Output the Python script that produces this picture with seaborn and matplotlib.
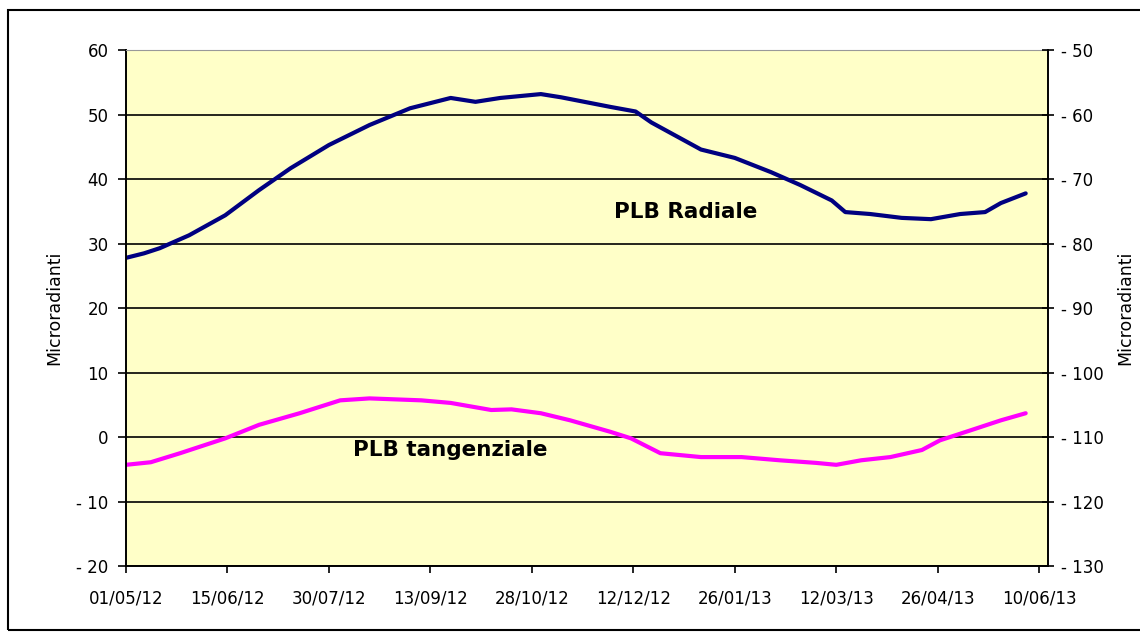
import pandas as pd
import seaborn as sns
import matplotlib.pyplot as plt
import matplotlib.dates as mdates
from matplotlib.patches import Rectangle

# Days since 01/05/12 and readings (microradians)
radiale_days = [0, 8, 15, 28, 44, 59, 73, 90, 108, 126, 144, 155, 166, 184, 193, 215, 226,
                233, 255, 270, 286, 299, 313, 319, 330, 344, 357, 370, 381, 388, 399]
radiale_vals = [27.8, 28.5, 29.3, 31.3, 34.4, 38.3, 41.7, 45.3, 48.4, 51.0, 52.6, 52.0, 52.6,
                53.2, 52.7, 51.2, 50.5, 48.8, 44.6, 43.3, 41.1, 39.1, 36.7, 34.9, 34.6, 34.0,
                33.8, 34.6, 34.9, 36.3, 37.8]

tang_days = [0, 11, 24, 44, 59, 77, 95, 108, 131, 144, 162, 171, 184, 197, 215, 224, 237,
             255, 273, 290, 306, 315, 326, 339, 353, 361, 375, 388, 399]
tang_vals = [-4.3, -3.9, -2.5, -0.2, 1.9, 3.7, 5.7, 6.0, 5.7, 5.3, 4.2, 4.3, 3.7, 2.6, 0.8,
             -0.2, -2.5, -3.1, -3.1, -3.6, -4.0, -4.3, -3.6, -3.1, -2.0, -0.5, 1.1, 2.6, 3.7]

tick_dates = ['2012-05-01', '2012-06-15', '2012-07-30', '2012-09-13', '2012-10-28',
              '2012-12-12', '2013-01-26', '2013-03-12', '2013-04-26', '2013-06-10']

start = pd.Timestamp('2012-05-01')
radiale = pd.DataFrame({'date': start + pd.to_timedelta(radiale_days, unit='D'), 'val': radiale_vals})
tang = pd.DataFrame({'date': start + pd.to_timedelta(tang_days, unit='D'), 'val': tang_vals})

sns.set_style('white')
plt.rcParams['font.family'] = ['DejaVu Sans']
plt.rcParams.update({'text.color': 'black', 'axes.labelcolor': 'black',
                     'xtick.color': 'black', 'ytick.color': 'black'})

fig = plt.figure(figsize=(11.4, 6.36), dpi=100)
ax = fig.add_axes([0.1105, 0.110, 0.809, 0.811])
ax.set_facecolor('#FFFFC8')

sns.lineplot(data=radiale, x='date', y='val', ax=ax, color='#000080', linewidth=3)
sns.lineplot(data=tang, x='date', y='val', ax=ax, color='#FF00FF', linewidth=3)

ax.set_ylim(-20, 60)
ax.set_yticks(range(-20, 61, 10))
ax.set_xlim(pd.Timestamp('2012-05-01'), pd.Timestamp('2013-06-14'))
ax.set_xticks(pd.to_datetime(tick_dates))
ax.xaxis.set_major_formatter(mdates.DateFormatter('%d/%m/%y'))
ax.yaxis.grid(True, color='black', linewidth=1.2)
ax.set_axisbelow(True)
ax.tick_params(axis='y', direction='out', length=5.5, width=1.2, color='black',
               labelsize=12, pad=7, left=True)
ax.tick_params(axis='x', direction='out', length=5, width=1.2, color='black',
               labelsize=12, pad=12, bottom=True)
ax.set_yticklabels([str(v).replace('-', '- ') for v in range(-20, 61, 10)])
ax.set_xlabel('')
ax.set_ylabel('Microradianti', fontsize=12.5)
ax.yaxis.set_label_coords(-0.068, 0.5)
for s in ['left', 'bottom']:
    ax.spines[s].set_color('black')
    ax.spines[s].set_linewidth(1.4)
ax.spines['top'].set_color('#999999')
ax.spines['top'].set_linewidth(0.8)
ax.spines['right'].set_visible(False)

ax2 = ax.twinx()
ax2.set_ylim(-130, -50)
ax2.set_yticks(range(-130, -49, 10))
ax2.set_yticklabels([str(v).replace('-', '- ') for v in range(-130, -49, 10)])
ax2.tick_params(axis='y', direction='inout', length=8, width=1.2, color='black',
                labelsize=12, pad=5, right=True)
ax2.set_ylabel('Microradianti', fontsize=12.5)
ax2.yaxis.set_label_coords(1.0735, 0.5)
for s in ['left', 'top', 'bottom']:
    ax2.spines[s].set_visible(False)
ax2.spines['right'].set_color('black')
ax2.spines['right'].set_linewidth(1.4)

ax.text(pd.Timestamp('2013-01-04'), 34.9, 'PLB Radiale', fontsize=15.5, fontweight='bold',
        ha='center', va='center')
ax.text(pd.Timestamp('2012-09-22'), -2.0, 'PLB tangenziale', fontsize=15.5, fontweight='bold',
        ha='center', va='center')

# outer chart frame
fig.patches.append(Rectangle((8 / 1140, 1 - 630 / 636), 1.2, (630 - 10) / 636,
                             transform=fig.transFigure, fill=False, edgecolor='black',
                             linewidth=1.5))

fig.savefig('out.png', dpi=100)
